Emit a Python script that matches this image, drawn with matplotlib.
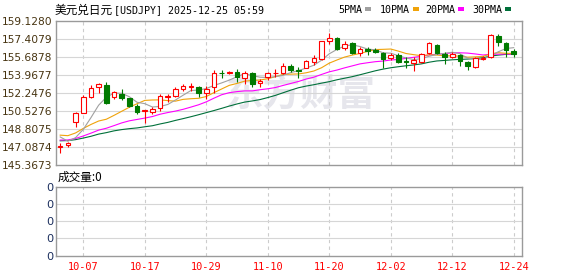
import matplotlib
matplotlib.use("Agg")
import matplotlib.pyplot as plt
from matplotlib.patches import Rectangle

# ---------------- data ----------------
dates = ["10-02", "10-03", "10-06", "10-07", "10-08", "10-09", "10-10",
         "10-13", "10-14", "10-15", "10-16", "10-17",
         "10-20", "10-21", "10-22", "10-23", "10-24",
         "10-27", "10-28", "10-29", "10-30", "10-31",
         "11-03", "11-04", "11-05", "11-06", "11-07",
         "11-10", "11-11", "11-12", "11-13", "11-14",
         "11-17", "11-18", "11-19", "11-20", "11-21",
         "11-24", "11-25", "11-26", "11-27", "11-28",
         "12-01", "12-02", "12-03", "12-04", "12-05",
         "12-08", "12-09", "12-10", "12-11", "12-12",
         "12-15", "12-16", "12-17", "12-18", "12-19",
         "12-22", "12-23", "12-24"]

opens = [147.05, 147.31, 149.51, 150.37, 151.89, 152.79, 153.01,
         151.89, 152.15, 151.74, 151.01, 150.50,
         150.40, 150.79, 151.90, 151.99, 152.63,
         152.83, 152.79, 152.22, 152.79, 154.19,
         154.13, 154.25, 153.72, 154.19, 153.17,
         153.81, 154.13, 154.19, 154.86, 154.45,
         154.67, 155.24, 155.50, 157.25, 157.53,
         156.58, 156.99, 156.10, 156.42, 156.33,
         156.10, 155.56, 155.88, 155.28, 155.15,
         155.18, 156.04, 156.84, 155.97, 155.72,
         155.88, 155.24, 154.76, 155.50, 155.66,
         157.72, 157.05, 156.29]
highs = [147.44, 147.57, 150.46, 152.06, 153.01, 153.23, 153.33,
         152.47, 152.60, 151.80, 151.20, 150.65,
         150.94, 152.15, 152.15, 152.79, 153.11,
         153.23, 152.92, 152.92, 154.45, 154.45,
         154.35, 154.51, 154.38, 154.29, 153.55,
         154.26, 154.51, 155.09, 155.02, 154.70,
         155.40, 155.88, 157.25, 158.01, 157.63,
         157.22, 157.09, 156.67, 156.67, 156.55,
         156.20, 156.10, 156.10, 155.66, 155.66,
         156.05, 157.09, 156.93, 156.20, 156.20,
         155.95, 155.31, 155.72, 155.75, 157.86,
         157.86, 157.15, 156.42]
lows = [146.54, 147.12, 149.03, 150.31, 151.74, 152.28, 151.20,
        151.65, 151.58, 150.94, 150.24, 149.41,
        150.24, 150.56, 151.42, 151.84, 152.44,
        152.47, 151.84, 151.65, 152.22, 153.71,
        154.06, 153.33, 153.06, 152.82, 152.79,
        153.49, 153.81, 154.07, 154.29, 153.65,
        154.61, 154.92, 155.42, 156.90, 156.36,
        156.36, 155.95, 155.78, 155.88, 156.04,
        154.67, 155.40, 155.09, 154.61, 154.38,
        155.09, 155.95, 155.95, 155.02, 155.56,
        154.86, 154.45, 154.67, 155.40, 155.56,
        156.77, 155.72, 155.66]
closes = [147.15, 147.45, 150.31, 151.84, 152.70, 153.11, 151.26,
          152.31, 151.74, 151.01, 150.46, 150.62,
          150.72, 151.99, 151.96, 152.63, 152.92,
          152.90, 152.22, 152.66, 154.13, 154.16,
          154.25, 153.81, 154.16, 153.14, 153.42,
          154.13, 154.19, 154.83, 154.45, 154.35,
          155.31, 155.56, 157.22, 157.53, 156.45,
          156.93, 156.10, 156.42, 156.29, 156.18,
          155.47, 155.88, 155.24, 155.20, 155.40,
          155.95, 156.99, 156.10, 155.72, 155.95,
          155.31, 154.83, 155.56, 155.62, 157.79,
          157.15, 156.36, 155.97]

ma5 = [148.05, 147.64, 147.98, 148.77, 149.89, 151.08, 151.84,
       152.24, 152.22, 151.89, 151.36, 151.23,
       150.91, 150.96, 151.15, 151.58, 152.04,
       152.48, 152.53, 152.67, 152.97, 153.21,
       153.48, 153.80, 154.10, 153.90, 153.76,
       153.73, 153.81, 153.94, 154.20, 154.39,
       154.63, 154.90, 155.38, 155.99, 156.41,
       156.74, 156.85, 156.69, 156.44, 156.38,
       156.09, 156.05, 155.81, 155.59, 155.44,
       155.53, 155.76, 155.93, 156.03, 156.14,
       156.01, 155.58, 155.47, 155.45, 155.82,
       156.19, 156.50, 156.58]
ma10 = [148.22, 148.17, 148.43, 148.86, 149.24, 149.57, 149.74,
        150.11, 150.50, 150.89, 151.22, 151.54,
        151.58, 151.59, 151.52, 151.47, 151.64,
        151.70, 151.74, 151.91, 152.28, 152.63,
        152.98, 153.16, 153.38, 153.44, 153.49,
        153.61, 153.81, 154.02, 154.05, 154.07,
        154.18, 154.35, 154.66, 155.10, 155.40,
        155.68, 155.87, 156.03, 156.22, 156.40,
        156.42, 156.45, 156.25, 156.02, 155.91,
        155.81, 155.90, 155.87, 155.81, 155.79,
        155.77, 155.67, 155.70, 155.74, 155.98,
        156.10, 156.04, 156.03]
ma20 = [147.75, 147.76, 147.90, 148.14, 148.41, 148.70, 148.88,
        149.13, 149.39, 149.59, 149.72, 149.85,
        150.00, 150.22, 150.38, 150.52, 150.69,
        150.90, 151.12, 151.40, 151.75, 152.08,
        152.28, 152.38, 152.45, 152.45, 152.56,
        152.65, 152.77, 152.97, 153.16, 153.35,
        153.58, 153.76, 154.02, 154.27, 154.44,
        154.65, 154.84, 155.03, 155.14, 155.24,
        155.30, 155.40, 155.45, 155.56, 155.66,
        155.75, 155.89, 155.95, 156.01, 156.09,
        156.09, 156.06, 155.98, 155.88, 155.95,
        155.96, 155.97, 155.95]
ma30 = [147.68, 147.70, 147.79, 147.94, 148.11, 148.32, 148.46,
        148.63, 148.75, 148.84, 148.91, 149.02,
        149.12, 149.29, 149.44, 149.63, 149.80,
        149.98, 150.17, 150.37, 150.57, 150.78,
        151.00, 151.20, 151.38, 151.49, 151.62,
        151.81, 152.02, 152.27, 152.52, 152.75,
        152.91, 153.04, 153.19, 153.33, 153.51,
        153.66, 153.81, 153.99, 154.18, 154.37,
        154.53, 154.66, 154.76, 154.85, 154.93,
        155.03, 155.19, 155.31, 155.36, 155.42,
        155.46, 155.49, 155.54, 155.62, 155.77,
        155.87, 155.94, 155.98]

price_ticks = [145.3673, 147.0874, 148.8075, 150.5276, 152.2476,
               153.9677, 155.6878, 157.4079, 159.1280]
price_tick_labels = ["145.3673", "147.0874", "148.8075", "150.5276", "152.2476",
                     "153.9677", "155.6878", "157.4079", "159.1280"]
date_tick_labels = ["10-07", "10-17", "10-29", "11-10", "11-20", "12-02", "12-12", "12-24"]
volume_ticks = [0, 1, 2, 3, 4]
volume_tick_labels = ["0", "0", "0", "0", "0"]
volume_latest = "0"

title_name = "美元兑日元"
title_rest = "[USDJPY] 2025-12-25 05:59"
ma_labels = ["5PMA", "10PMA", "20PMA", "30PMA"]

# ---------------- style ----------------
W, H = 578, 276
UP = "#ff0000"
DOWN = "#007a00"
MA_COLORS = ["#a0a0a0", "#f0a30a", "#ff00ff", "#00703a"]
SPINE = "#9a9a9a"
HGRID = "#d6d6d6"
VGRID = "#cccccc"
MONO = ["DejaVu Sans Mono"]
CJK = ["Noto Sans CJK SC", "DejaVu Sans"]

def fx(px):
    return px / W

def fy(py):
    return 1 - py / H

fig = plt.figure(figsize=(W / 100, H / 100), dpi=100)
fig.patch.set_facecolor("white")

ax = fig.add_axes([fx(55.5), fy(165), (522 - 55.5) / W, (165 - 21) / H])
axv = fig.add_axes([fx(55.5), fy(255.7), (522 - 55.5) / W, (255.7 - 186.7) / H])

x = list(range(len(dates)))
tick_pos = [dates.index(d) for d in date_tick_labels]
xlim = (-0.61, 60.08)

for a in (ax, axv):
    a.set_xlim(*xlim)
    for s in a.spines.values():
        s.set_color(SPINE)
        s.set_linewidth(1.0)
    a.tick_params(length=0)
    for p in tick_pos:
        a.axvline(p, color=VGRID, linewidth=0.8, linestyle=(0, (3, 3)), zorder=1)

# main price panel
ax.set_ylim(price_ticks[0], price_ticks[-1])
ax.set_yticks(price_ticks)
ax.set_yticklabels(price_tick_labels, fontsize=7.7, color="#473411", family="DejaVu Sans")
ax.tick_params(axis="y", pad=2.2)
ax.set_xticks([])
for t in price_ticks[1:-1]:
    ax.axhline(t, color=HGRID, linewidth=0.8, zorder=1)

ax.text(0.525, 0.485, "东方财富", transform=ax.transAxes, fontsize=27,
        fontweight="bold", color="#e6e6ec", family=CJK,
        ha="center", va="center", zorder=0)

for vals, col in zip([ma30, ma20, ma10, ma5], MA_COLORS[::-1]):
    ax.plot(x, vals, color=col, linewidth=0.8, zorder=2)

up = [c >= o for o, c in zip(opens, closes)]
cols = [UP if u else DOWN for u in up]
faces = ["white" if u else DOWN for u in up]
bottoms = [min(o, c) for o, c in zip(opens, closes)]
heights = [max(abs(c - o), 0.02) for o, c in zip(opens, closes)]
ax.vlines(x, lows, highs, colors=cols, linewidth=0.8, zorder=3)
ax.bar(x, heights, bottom=bottoms, width=0.6, color=faces, edgecolor=cols,
       linewidth=0.8, zorder=4)

# volume panel
axv.set_ylim(volume_ticks[0], volume_ticks[-1])
axv.set_yticks(volume_ticks)
axv.set_yticklabels(volume_tick_labels, fontsize=8.2, color="#1c2f5e", family="DejaVu Sans")
axv.tick_params(axis="y", pad=1.5)
for t in volume_ticks[1:-1]:
    axv.axhline(t, color=HGRID, linewidth=0.8, zorder=1)
axv.set_xticks(tick_pos)
axv.set_xticklabels(date_tick_labels, fontsize=7.4, color="#ff0000", family=MONO)
axv.tick_params(axis="x", pad=4.5)

# header texts
fig.text(fx(55), fy(10), title_name, fontsize=8.4, family=CJK, color="black",
         ha="left", va="center")
fig.text(fx(114.5), fy(10), title_rest, fontsize=7.2, family=MONO, color="black",
         ha="left", va="center")

leg_x = [338, 380, 425, 472]
for lab, col, lx in zip(ma_labels, MA_COLORS, leg_x):
    fig.text(fx(lx), fy(10), lab, fontsize=7.2, family=MONO, color="black",
             ha="left", va="center")
    mx = lx + 6.02 * len(lab) + 3
    fig.add_artist(Rectangle((fx(mx), fy(10.5)), 6 / W, 3.5 / H,
                             transform=fig.transFigure, facecolor=col,
                             edgecolor="none"))

fig.text(fx(57.5), fy(177), "成交量:" + volume_latest, fontsize=8.4, family=CJK,
         color="black", ha="left", va="center")

fig.savefig("out.png", dpi=100)
